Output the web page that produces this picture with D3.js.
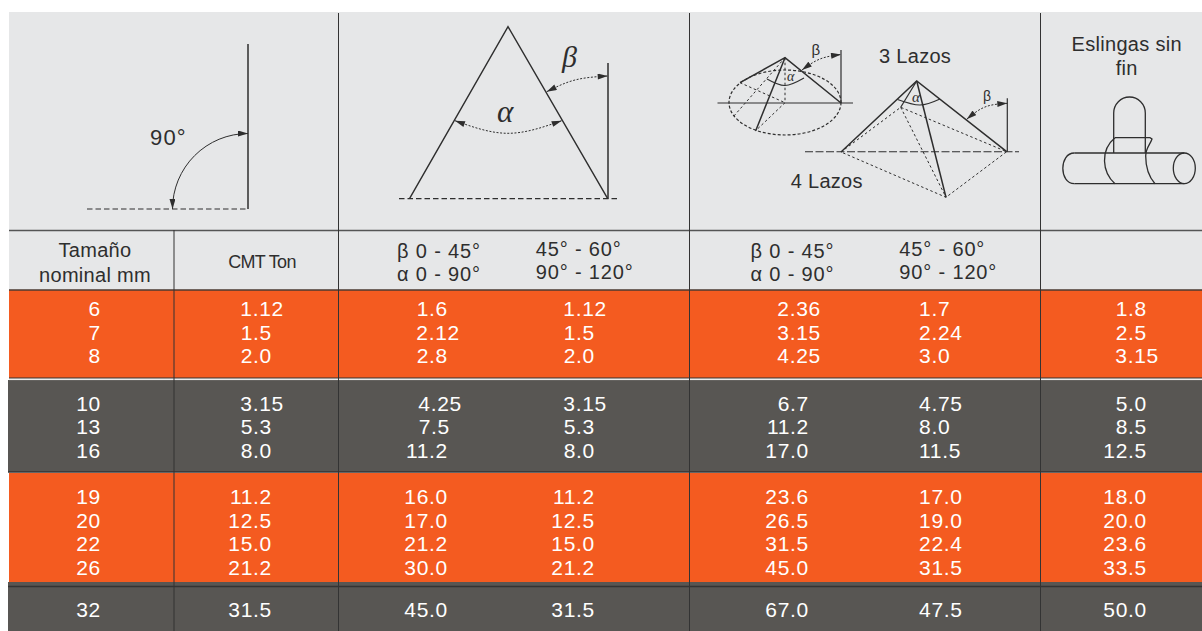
<!DOCTYPE html>
<html>
<head>
<meta charset="utf-8">
<script src="https://cdn.jsdelivr.net/npm/d3@7"></script>
<style>
  html, body { margin: 0; padding: 0; background: #fff; }
  svg { display: block; }
  text { font-family: "Liberation Sans", Arial, sans-serif; }
</style>
</head>
<body>
<div id="chart"></div>
<script>
// table values, top to bottom, one array per column
var sizes     = ["6","7","8","10","13","16","19","20","22","26","32"];
var cmtTon    = ["1.12","1.5","2.0","3.15","5.3","8.0","11.2","12.5","15.0","21.2","31.5"];
var twoLeg45  = ["1.6","2.12","2.8","4.25","7.5","11.2","16.0","17.0","21.2","30.0","45.0"];
var twoLeg60  = ["1.12","1.5","2.0","3.15","5.3","8.0","11.2","12.5","15.0","21.2","31.5"];
var multi45   = ["2.36","3.15","4.25","6.7","11.2","17.0","23.6","26.5","31.5","45.0","67.0"];
var multi60   = ["1.7","2.24","3.0","4.75","8.0","11.5","17.0","19.0","22.4","31.5","47.5"];
var endless   = ["1.8","2.5","3.15","5.0","8.5","12.5","18.0","20.0","23.6","33.5","50.0"];
var columns   = [sizes, cmtTon, twoLeg45, twoLeg60, multi45, multi60, endless];
var groupSize = [3, 3, 4, 1];

var angleLow  = ["\u03B2 0 - 45°", "\u03B1 0 - 90°"];
var angleHigh = ["45° - 60°", "90° - 120°"];

var width = 1202, height = 631;
var orange = "#f45b20", grey = "#585653", panel = "#e6e7e8", ink = "#2e2e2e";

var svg = d3.select("#chart").append("svg")
    .attr("width", width)
    .attr("height", height);

// arrow head used by the angle arcs
svg.append("defs").append("marker")
    .attr("id", "arrow")
    .attr("viewBox", "0 0 10 6")
    .attr("refX", 10).attr("refY", 3)
    .attr("markerUnits", "userSpaceOnUse")
    .attr("markerWidth", 11).attr("markerHeight", 6)
    .attr("orient", "auto-start-reverse")
    .append("path").attr("d", "M0,0L10,3L0,6Z").attr("fill", ink);

// backgrounds
svg.append("rect").attr("x", 9).attr("y", 12).attr("width", width - 9).attr("height", 279).attr("fill", panel);

var bands = [
  {x: 9, y: 290, h: 88, fill: orange},
  {x: 8, y: 380, h: 92, fill: grey},
  {x: 9, y: 473, h: 110, fill: orange},
  {x: 8, y: 582, h: 49, fill: grey}
];
svg.selectAll("rect.band").data(bands).enter().append("rect")
    .attr("class", "band")
    .attr("x", function(d){ return d.x; })
    .attr("y", function(d){ return d.y; })
    .attr("width", function(d){ return width - d.x; })
    .attr("height", function(d){ return d.h; })
    .attr("fill", function(d){ return d.fill; });

// row and column rules
var rules = [
  [9, 230.5, width, 230.5, "#555", 1.4],
  [9, 290, width, 290, "#4a3a32", 1.5],
  [9, 378, width, 378, "#33302e", 1.2],
  [9, 379.6, width, 379.6, "#e8e8e8", 0.9],
  [8, 472, width, 472, "#333", 1.4],
  [8, 586.5, width, 586.5, "#333", 1.4],
  [174, 230, 174, 631, "#333", 1],
  [338.5, 13, 338.5, 631, "#333", 1],
  [689.5, 13, 689.5, 631, "#333", 1],
  [1040.5, 13, 1040.5, 631, "#333", 1]
];
svg.selectAll("line.rule").data(rules).enter().append("line")
    .attr("class", "rule")
    .attr("x1", function(d){ return d[0]; })
    .attr("y1", function(d){ return d[1]; })
    .attr("x2", function(d){ return d[2]; })
    .attr("y2", function(d){ return d[3]; })
    .attr("stroke", function(d){ return d[4]; })
    .attr("stroke-width", function(d){ return d[5]; });

// body numbers, the columns are aligned on the first decimal digit
var rowIndex = d3.range(sizes.length);
var firstBaseline = [316, 410.7, 504.3, 616.7];
var rowStep = 23.5;
var rowGroup = [];
groupSize.forEach(function(n, g){ d3.range(n).forEach(function(){ rowGroup.push(g); }); });
var rowY = d3.scaleOrdinal()
    .domain(rowIndex)
    .range(rowIndex.map(function(i){
      var g = rowGroup[i];
      return firstBaseline[g] + (i - d3.sum(groupSize.slice(0, g))) * rowStep;
    }));
var colX = d3.scaleOrdinal()
    .domain(d3.range(columns.length))
    .range([101, 272, 448, 595, 809, 919, 1147]);
var digit = 12;
var nudge = {"2:3": 2, "2:4": 2};

columns.forEach(function(values, c){
  svg.append("g").selectAll("text").data(values).enter().append("text")
      .text(function(d){ return d; })
      .attr("x", function(d, i){
        if (c === 5) return colX(c);   // this one is set flush left in the original
        var extra = d.indexOf(".") >= 0 && d.length - d.indexOf(".") === 3 ? digit : 0;
        return colX(c) + extra + (nudge[c + ":" + i] || 0);
      })
      .attr("y", function(d, i){ return rowY(i); })
      .attr("text-anchor", c === 5 ? "start" : "end")
      .attr("font-size", 21)
      .attr("letter-spacing", 0.7)
      .attr("fill", "#fff");
});

function label(txt, x, y, size, spacing, anchor, fill){
  return svg.append("text").text(txt)
      .attr("x", x).attr("y", y)
      .attr("font-size", size)
      .attr("letter-spacing", spacing || 0)
      .attr("text-anchor", anchor || "start")
      .attr("fill", fill || ink);
}
function greek(txt, x, y, size){
  return label(txt, x, y, size).style("font-family", "'Liberation Serif', serif").style("font-style", "italic");
}

// header labels
label("Tamaño", 95, 257, 20, 0.3, "middle");
label("nominal mm", 95, 281.5, 20, 0.3, "middle");
label("CMT Ton", 262, 268, 18, -0.7, "middle");
[[397, 535.7], [750.5, 899.3]].forEach(function(xs){
  angleLow.forEach(function(t, i){ label(t, xs[0], 258 + i * 23, 20, 0.85); });
  angleHigh.forEach(function(t, i){ label(t, xs[1], 256 + i * 23, 20, 0.85); });
});
label("Eslingas sin", 1126.7, 51, 20, 0.3, "middle");
label("fin", 1126.7, 75, 20, 0.3, "middle");
label("90°", 150, 145, 22, 1.2);
label("3 Lazos", 879, 63.3, 20, 0.3);
label("4 Lazos", 790.7, 188, 20, 0.3);

// drawing helpers for the sketches
var straight = d3.line();
var curved = d3.line().curve(d3.curveNatural);

function stroke(points, w, dash, gen){
  var p = svg.append("path")
      .attr("d", (gen || straight)(points))
      .attr("fill", "none")
      .attr("stroke", ink)
      .attr("stroke-width", w);
  if (dash) p.attr("stroke-dasharray", dash);
  return p;
}
function arc(points, dash){
  return stroke(points, 1, dash, curved)
      .attr("marker-start", "url(#arrow)")
      .attr("marker-end", "url(#arrow)");
}

// sketch 1: right angle
stroke([[248, 44], [248, 209]], 1.5);
stroke([[87, 209], [248, 209]], 1.2, "5.5 3");
var quarter = d3.path();
quarter.arc(248, 209, 75.5, -Math.PI / 2, Math.PI, true);
svg.append("path").attr("d", quarter.toString())
    .attr("fill", "none").attr("stroke", ink).attr("stroke-width", 1)
    .attr("marker-start", "url(#arrow)")
    .attr("marker-end", "url(#arrow)");

// sketch 2: two legs
stroke([[409.5, 198.7], [508, 26.7], [607.7, 198.7]], 1.4);
stroke([[608, 63], [608, 198.7]], 1.5);
stroke([[399, 198.7], [618, 198.7]], 1.2, "5.5 3");
arc([[455, 120.7], [508, 133.3], [561.7, 120.7]], "2 1.6");
arc([[546.7, 91.7], [575, 80], [607.7, 76]], "2 1.6");
greek("\u03B1", 497, 122, 31);
greek("\u03B2", 562, 67, 30);

// sketch 3: three legs over the circle
svg.append("ellipse")
    .attr("cx", 785).attr("cy", 102.5).attr("rx", 56).attr("ry", 32.5)
    .attr("fill", "none").attr("stroke", ink).attr("stroke-width", 1.2).attr("stroke-dasharray", "3 2");
stroke([[717.5, 103], [853, 103]], 1.1);
stroke([[740, 82.7], [785, 57.7], [841, 103]], 1.5);
stroke([[785, 57.7], [755.7, 130.7]], 1.5);
stroke([[841, 50], [841, 103]], 1.2);
stroke([[785, 57.7], [785, 102.7]], 1, "2.5 2.5");
stroke([[740, 82.7], [785, 102.7]], 1, "2.5 2.5");
stroke([[785, 57.7], [733.3, 116.7]], 1, "2.5 2.5");
stroke([[785, 102.7], [755.7, 130.7]], 1, "2.5 2.5");
arc([[802, 70], [820, 59], [841, 54.5]], "2 1.6");
stroke([[767, 79], [785, 85.5], [804, 78]], 1.1, null, curved);
label("\u03B2", 811.5, 55, 15);
greek("\u03B1", 787, 81, 14);

// sketch 4: four legs
stroke([[841, 152], [916.7, 81], [1006.7, 151.7]], 1.5);
stroke([[916.7, 81], [946, 197.3]], 1.5);
stroke([[916.7, 81], [900.7, 107.3]], 1.2);
stroke([[1007.3, 98.3], [1007.3, 151.7]], 1.2);
stroke([[805, 151.7], [1019, 151.7]], 1.1, "8 2.5");
stroke([[841, 152], [900.7, 107.3], [1006.7, 151.7], [946, 197.3], [841, 152]], 1, "2.5 2.5");
stroke([[900.7, 107.3], [946, 197.3]], 1, "2.5 2.5");
arc([[966.7, 119.3], [985, 107], [1007.3, 103.3]], "2 1.6");
stroke([[897.5, 99.5], [920, 105], [940, 99]], 1.1, null, curved);
label("\u03B2", 983, 101, 14);
greek("\u03B1", 912, 102, 15);

// sketch 5: endless sling round a bar
var sling = [
  "M1074.3,153L1184.3,153",
  "M1074.3,183.7L1184.3,183.7",
  "M1074.3,153C1059,153 1059,183.7 1074.3,183.7",
  "M1113.7,153L1113.7,113A15.8,16 0 0 1 1145.3,113L1145.3,153",
  "M1115,137.7L1150,137.7L1152,139C1150,145 1145.7,148 1145.7,156C1145.7,168 1149,177 1155,183.7",
  "M1115,137.7C1100,150 1102,172 1115,183.7"
];
svg.selectAll("path.sling").data(sling).enter().append("path")
    .attr("class", "sling")
    .attr("d", function(d){ return d; })
    .attr("fill", "none").attr("stroke", ink).attr("stroke-width", 1.3);
svg.append("ellipse")
    .attr("cx", 1184.3).attr("cy", 168.3).attr("rx", 11).attr("ry", 15.3)
    .attr("fill", "none").attr("stroke", ink).attr("stroke-width", 1.3);
</script>
</body>
</html>
